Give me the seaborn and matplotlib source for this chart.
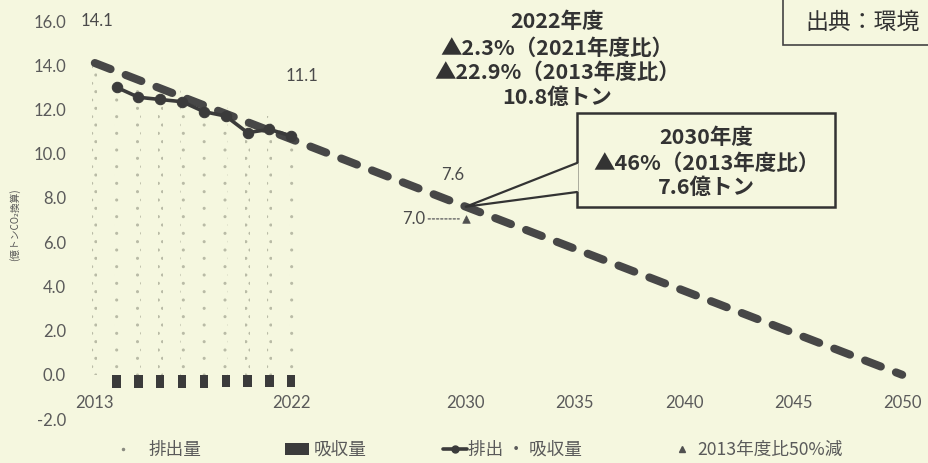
import matplotlib
matplotlib.use("Agg")
import matplotlib.pyplot as plt
import seaborn as sns
import numpy as np
from matplotlib.lines import Line2D
from matplotlib.patches import Patch, Rectangle, Polygon

# ---------------- data ----------------
gross_years = [2013, 2014, 2015, 2016, 2017, 2018, 2019, 2020, 2021, 2022]
gross_vals = [14.1, 13.6, 13.2, 13.0, 12.9, 12.5, 12.1, 11.5, 11.7, 11.35]   # 排出量

absorb_years = [2014, 2015, 2016, 2017, 2018, 2019, 2020, 2021, 2022]
absorb_vals = [-0.6, -0.6, -0.6, -0.58, -0.58, -0.55, -0.57, -0.57, -0.55]  # 吸収量

net_years = [2014, 2015, 2016, 2017, 2018, 2019, 2020, 2021, 2022]
net_vals = [13.0, 12.55, 12.45, 12.35, 11.9, 11.7, 10.95, 11.1, 10.8]       # 排出・吸収量

path_years = [2013, 2030, 2050]
path_vals = [14.1, 7.6, 0.0]            # 2050 net-zero path

half_year = [2030]
half_val = [7.05]                        # 2013年度比50%減

x_ticks = [2013, 2022, 2030, 2035, 2040, 2045, 2050]
y_ticks = [-2, 0, 2, 4, 6, 8, 10, 12, 14, 16]

legend_labels = ["排出量", "吸収量", "排出 ・ 吸収量", "2013年度比50%減"]

# ---------------- style ----------------
BG = "#f5f7df"
DARK = "#3b3b3b"
GRAY = "#5a5a5a"

sns.set_theme(style="white")
plt.rcParams["font.family"] = ["Lato", "Noto Sans CJK JP", "DejaVu Sans"]
plt.rcParams["axes.unicode_minus"] = False
plt.rcParams["hatch.linewidth"] = 1.0

W, H = 929, 463
fig = plt.figure(figsize=(W / 100, H / 100), dpi=100, facecolor=BG)
ax = fig.add_axes([73 / W, 44 / H, 851 / W, 398 / H], facecolor=BG)

# 排出量 (faint dotted bars)
ax.bar(gross_years, gross_vals, width=0.22, facecolor="none",
       edgecolor="#b9bba6", linewidth=0, hatch="..", zorder=1)
# 吸収量
ax.bar(absorb_years, absorb_vals, width=0.38, color=DARK, linewidth=0, zorder=2)

# path line (dashed)
sns.lineplot(x=path_years, y=path_vals, ax=ax, color="#474747", lw=5.8,
             linestyle=(0, (2.1, 2.0)), dash_capstyle="round", zorder=3)
# net line
sns.lineplot(x=net_years, y=net_vals, ax=ax, color=DARK, lw=2.6,
             marker="o", markersize=7.5, markeredgecolor=DARK, zorder=4)
# 50% reduction marker
sns.scatterplot(x=half_year, y=half_val, ax=ax, marker="^", s=30,
                color="#505050", edgecolor="#505050", zorder=5)

ax.set_xlim(2012, 2051)
ax.set_ylim(-2, 16)
ax.set_xticks(x_ticks)
ax.set_yticks(y_ticks)
ax.set_yticklabels([f"{v:.1f}" for v in y_ticks])
for s in ax.spines.values():
    s.set_visible(False)
ax.spines["bottom"].set_position(("data", 0))
ax.tick_params(axis="x", length=0, pad=14.5, labelsize=12, labelcolor=GRAY)
ax.tick_params(axis="y", length=0, pad=5, labelsize=12, labelcolor=GRAY)
ax.grid(False)
ax.set_xlabel("")
ax.set_ylabel("")

# data labels
ax.text(2013.1, 16.0, "14.1", ha="center", va="center", fontsize=12, color="#4a4a4a")
ax.text(2022.5, 13.5, "11.1", ha="center", va="center", fontsize=12, color="#4a4a4a")
ax.text(2029.4, 9.05, "7.6", ha="center", va="center", fontsize=12, color="#4a4a4a")
ax.annotate("7.0", xy=(2029.7, half_val[0]), xytext=(2027.6, half_val[0]),
            ha="center", va="center", fontsize=12, color="#4a4a4a",
            arrowprops=dict(arrowstyle="-", linestyle=(0, (1.5, 1.5)),
                            color="#666666", lw=1.0, shrinkA=0, shrinkB=0))

CJK = ["Noto Sans CJK JP", "DejaVu Sans"]

# 2022 annotation block
for txt, ypx in [("2022年度", 22), ("▲2.3%（2021年度比）", 48),
                 ("▲22.9%（2013年度比）", 72), ("10.8億トン", 97)]:
    fig.text(557 / W, 1 - ypx / H, txt, ha="center", va="center",
             fontsize=15.5, fontweight="bold", color="#333333", family=CJK)

# 2030 callout box
bx0, bx1, by0, by1 = 577, 835, 113, 207
fig.patches.append(Rectangle((bx0 / W, 1 - by1 / H), (bx1 - bx0) / W, (by1 - by0) / H,
                             transform=fig.transFigure, facecolor=BG,
                             edgecolor="#333333", lw=1.8, zorder=6))
tip = fig.transFigure.inverted().transform(ax.transData.transform((2030, 7.6)))
pa = (bx0 / W, 1 - 163 / H)
pb = (bx0 / W, 1 - 192 / H)
fig.patches.append(Polygon([(pa[0] + 1.5 / W, pa[1]), tip, (pb[0] + 1.5 / W, pb[1])],
                           closed=True, transform=fig.transFigure,
                           facecolor=BG, edgecolor="none", zorder=7))
fig.lines.append(Line2D([pa[0], tip[0], pb[0]], [pa[1], tip[1], pb[1]],
                        transform=fig.transFigure, color="#333333", lw=1.6, zorder=8))
for txt, ypx in [("2030年度", 138), ("▲46%（2013年度比）", 163), ("7.6億トン", 187)]:
    fig.text(706 / W, 1 - ypx / H, txt, ha="center", va="center",
             fontsize=15.5, fontweight="bold", color="#333333", family=CJK, zorder=9)

# source box (cut by figure edge)
fig.patches.append(Rectangle((783 / W, 1 - 45 / H), 200 / W, 60 / H,
                             transform=fig.transFigure, facecolor=BG,
                             edgecolor="#444444", lw=1.2, zorder=6))
fig.text(805 / W, 1 - 22 / H, "出典：環境", ha="left", va="center",
         fontsize=16.5, color="#333333", family=CJK, zorder=9)

# y label
fig.text(15 / W, 1 - 225 / H, "(億トンCO₂換算)", rotation=90, ha="center",
         va="center", fontsize=7, color="#555555", family=CJK)

# legend: one entry per legend so each sits where the reference has it
handles = [
    Line2D([], [], ls="none", marker=".", markersize=3, color="#8a8a80"),
    Patch(facecolor=DARK, edgecolor="none"),
    Line2D([], [], color=DARK, lw=2.6, marker="o", markersize=5),
    Line2D([], [], ls="none", marker="^", markersize=5, color="#505050"),
]
starts = [111, 285, 443, 670]
pads = [0.75, 0.25, 0.08, 0.2]
for h, lab, x0, p in zip(handles, legend_labels, starts, pads):
    fig.legend([h], [lab], loc="center left", bbox_to_anchor=(x0 / W, 13 / H),
               frameon=False, prop={"family": CJK, "size": 12.7}, labelcolor=GRAY,
               handlelength=1.35, handletextpad=p, borderpad=0, borderaxespad=0)

fig.savefig("out.png", dpi=100, facecolor=BG)
